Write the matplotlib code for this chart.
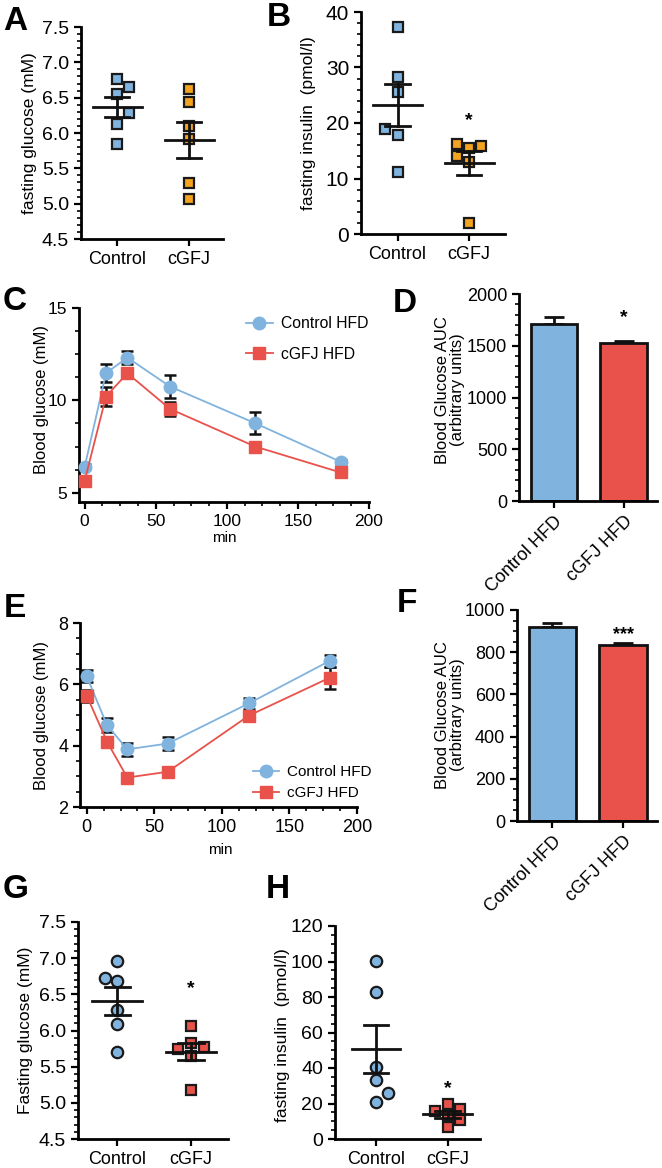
import numpy as np
import matplotlib
matplotlib.use("Agg")
import matplotlib.pyplot as plt
from matplotlib.ticker import MultipleLocator, AutoMinorLocator

plt.rcParams["font.family"] = ["Liberation Sans", "DejaVu Sans"]

W, H = 662, 1168

BLUE = "#80b3de"
ORANGE = "#f2a31f"
RED = "#e8524b"

groups = ["Control", "cGFJ"]
groups_hfd = ["Control HFD", "cGFJ HFD"]

# A: fasting glucose (mM)
a_control = [6.76, 6.65, 6.55, 6.28, 6.13, 5.84]
a_cgfj = [6.62, 6.44, 6.10, 5.91, 5.29, 5.06]

# B: fasting insulin (pmol/l)
b_control = [37.3, 28.3, 25.6, 18.9, 17.9, 11.2]
b_cgfj = [16.2, 15.9, 15.5, 14.0, 13.0, 2.0]

# C: glucose tolerance, blood glucose (mM)
times = [0, 15, 30, 60, 120, 180]
c_control = [6.41, 11.47, 12.32, 10.75, 8.76, 6.68]
c_control_sem = [0.12, 0.5, 0.33, 0.6, 0.6, 0.1]
c_cgfj = [5.65, 10.21, 11.47, 9.54, 7.50, 6.10]
c_cgfj_sem = [0.12, 0.49, 0.2, 0.36, 0.15, 0.1]

# D: AUC
d_auc = [1710, 1523]
d_sem = [70, 25]

# E: insulin tolerance, blood glucose (mM)
e_control = [6.26, 4.67, 3.88, 4.07, 5.38, 6.77]
e_control_sem = [0.2, 0.22, 0.22, 0.2, 0.18, 0.19]
e_cgfj = [5.63, 4.13, 2.96, 3.15, 4.98, 6.22]
e_cgfj_sem = [0.2, 0.15, 0.05, 0.08, 0.16, 0.36]

# F: AUC
f_auc = [921, 833]
f_sem = [16, 12]

# G: fasting glucose (mM)
g_control = [6.96, 6.73, 6.69, 6.28, 6.09, 5.70]
g_cgfj = [6.06, 5.83, 5.77, 5.74, 5.65, 5.18]

# H: fasting insulin (pmol/l)
h_control = [100.3, 83.0, 40.8, 33.2, 25.7, 21.0]
h_cgfj = [20.0, 17.0, 15.9, 13.5, 10.7, 6.8]

fig = plt.figure(figsize=(W / 100, H / 100), dpi=100)


def box(left, top, right, bottom):
    ax = fig.add_axes([left / W, 1 - bottom / H, (right - left) / W, (bottom - top) / H])
    ax.px_h = bottom - top
    for s in ["top", "right"]:
        ax.spines[s].set_visible(False)
    for s in ["left", "bottom"]:
        ax.spines[s].set_linewidth(2)
    ax.tick_params(which="major", length=5, width=1.6, direction="out")
    ax.tick_params(which="minor", length=3, width=1.2, direction="out")
    ax.patch.set_alpha(0)
    return ax


def ftext(x, y, s, **kw):
    fig.text(x / W, 1 - y / H, s, **kw)


def letter(x, y, s):
    ftext(x, y, s, fontsize=24, fontweight="bold", ha="center", va="center")


def swarm(ax, values, size_px=11, step=0.17, first=-1):
    lo, hi = ax.get_ylim()
    scale = ax.px_h / (hi - lo)
    dx = np.zeros(len(values))
    placed = []
    for i in np.argsort(values):
        for k in [0, first, -first, 2 * first, -2 * first]:
            if all(kk != k or abs(values[i] - v) * scale >= size_px for v, kk in placed):
                dx[i] = k * step
                placed.append((values[i], k))
                break
    return dx


def dot_panel(ax, data, colors, markers, first, ytick_fs=14, xtick_fs=13):
    for i, (vals, col, mk) in enumerate(zip(data, colors, markers)):
        vals = np.asarray(vals)
        dx = swarm(ax, vals, first=first)
        ax.plot(i + dx, vals, ls="none", marker=mk, ms=7.8 if mk == "s" else 8.2, mfc=col,
                mec="#1a1a1a", mew=1.6, zorder=2, clip_on=False)
        m = vals.mean()
        sem = vals.std(ddof=1) / np.sqrt(len(vals))
        ax.plot([i - 0.34, i + 0.34], [m, m], color="#111111", lw=2, zorder=3)
        ax.plot([i - 0.17, i + 0.17], [m + sem] * 2, color="#111111", lw=2, zorder=3)
        ax.plot([i - 0.17, i + 0.17], [m - sem] * 2, color="#111111", lw=2, zorder=3)
        ax.plot([i, i], [m - sem, m + sem], color="#111111", lw=2, zorder=3)
    ax.set_xticks([0, 1])
    ax.set_xticklabels(groups, fontsize=xtick_fs)
    ax.tick_params(axis="y", labelsize=ytick_fs)


def curve_panel(ax, ctrl, ctrl_sem, cg, cg_sem, fs=12.5):
    ax.errorbar(times, ctrl, yerr=ctrl_sem, fmt="none", ecolor="#111111", elinewidth=1.8,
                capsize=4, capthick=1.8, zorder=2)
    ax.errorbar(times, cg, yerr=cg_sem, fmt="none", ecolor="#111111", elinewidth=1.8,
                capsize=4, capthick=1.8, zorder=2)
    ax.plot(times, ctrl, color=BLUE, lw=1.3, marker="o", ms=9, mec=BLUE, zorder=3,
            label=groups_hfd[0], clip_on=False)
    ax.plot(times, cg, color=RED, lw=1.3, marker="s", ms=9, mec=RED, zorder=4,
            label=groups_hfd[1], clip_on=False)
    ax.set_xlim(-4, 200)
    ax.xaxis.set_major_locator(MultipleLocator(50))
    ax.xaxis.set_minor_locator(AutoMinorLocator(4))
    ax.tick_params(labelsize=fs)


def bar_panel(ax, auc, sem, fs=13):
    x = np.arange(2)
    ax.bar(x, auc, width=0.67, color=[BLUE, RED], edgecolor="#111111", linewidth=2, zorder=2)
    ax.errorbar(x, auc, yerr=[[0, 0], sem], fmt="none", ecolor="#111111", elinewidth=2,
                capsize=7, capthick=2, zorder=1)
    ax.set_xlim(-0.5, 1.48)
    ax.set_xticks(x)
    ax.set_xticklabels(groups_hfd, rotation=45, ha="right", rotation_mode="anchor", fontsize=fs)
    ax.tick_params(labelsize=fs)


# ---- A
ax = box(81, 27, 223, 239)
ax.set_ylim(4.5, 7.5)
ax.set_xlim(-0.5, 1.47)
ax.yaxis.set_major_locator(MultipleLocator(0.5))
ax.yaxis.set_minor_locator(MultipleLocator(0.1))
ax.yaxis.set_major_formatter("{x:.1f}")
dot_panel(ax, [a_control, a_cgfj], [BLUE, ORANGE], ["s", "s"], first=1)
ftext(30, 133, "fasting glucose (mM)", rotation=90, ha="center", va="center", fontsize=12.5)
letter(15, 22, "A")

# ---- B
ax = box(361, 12, 505, 234)
ax.set_ylim(0, 40)
ax.set_xlim(-0.51, 1.5)
ax.yaxis.set_major_locator(MultipleLocator(10))
ax.yaxis.set_minor_locator(MultipleLocator(2))
dot_panel(ax, [b_control, b_cgfj], [BLUE, ORANGE], ["s", "s"], first=-1, ytick_fs=15)
ax.text(1, 20.5, "*", ha="center", va="center", fontsize=14, fontweight="bold")
ftext(308, 123, "fasting insulin  (pmol/l)", rotation=90, ha="center", va="center", fontsize=12.5)
letter(279, 17, "B")

# ---- C
ax = box(79, 308, 369, 502)
ax.set_ylim(4.5, 15)
ax.yaxis.set_major_locator(MultipleLocator(5))
ax.yaxis.set_minor_locator(MultipleLocator(1.25))
curve_panel(ax, c_control, c_control_sem, c_cgfj, c_cgfj_sem)
ax.legend(loc="upper left", bbox_to_anchor=(246 / W, 1 - 316 / H), bbox_transform=fig.transFigure,
          frameon=False, fontsize=11.3, handlelength=1.7, handletextpad=0.5, labelspacing=1.0,
          borderpad=0, borderaxespad=0)
ftext(42, 400, "Blood glucose (mM)", rotation=90, ha="center", va="center", fontsize=12)
ftext(224, 538, "min", ha="center", va="center", fontsize=11)
letter(15, 302, "C")

# ---- D
ax = box(519, 294, 657, 501)
ax.set_ylim(0, 2000)
ax.yaxis.set_major_locator(MultipleLocator(500))
ax.yaxis.set_minor_locator(MultipleLocator(100))
bar_panel(ax, d_auc, d_sem)
ax.text(1, 1768, "*", ha="center", va="center", fontsize=14, fontweight="bold")
ftext(450, 390, "Blood Glucose AUC\n(arbitrary units)", rotation=90, ha="center", va="center",
      fontsize=12, multialignment="center", linespacing=1.0)
letter(405, 303, "D")

# ---- E
ax = box(80, 623, 357, 807)
ax.set_ylim(2, 8)
ax.yaxis.set_major_locator(MultipleLocator(2))
ax.yaxis.set_minor_locator(MultipleLocator(0.5))
curve_panel(ax, e_control, e_control_sem, e_cgfj, e_cgfj_sem, fs=13)
ax.set_xlim(-5, 200)
ax.legend(loc="upper left", bbox_to_anchor=(253 / W, 1 - 765 / H), bbox_transform=fig.transFigure,
          frameon=False, fontsize=11, handlelength=1.7, handletextpad=0.5, labelspacing=0.45,
          borderpad=0, borderaxespad=0)
ftext(42, 715, "Blood glucose (mM)", rotation=90, ha="center", va="center", fontsize=12)
ftext(220, 850, "min", ha="center", va="center", fontsize=11)
letter(15, 609, "E")

# ---- F
ax = box(517, 610, 657, 821)
ax.set_ylim(0, 1000)
ax.yaxis.set_major_locator(MultipleLocator(200))
ax.yaxis.set_minor_locator(MultipleLocator(50))
bar_panel(ax, f_auc, f_sem)
ax.text(1, 883, "***", ha="center", va="center", fontsize=13, fontweight="bold")
ftext(450, 715, "Blood Glucose AUC\n(arbitrary units)", rotation=90, ha="center", va="center",
      fontsize=12, multialignment="center", linespacing=1.0)
letter(407, 604, "F")

# ---- G
ax = box(78, 922, 228, 1139)
ax.set_ylim(4.5, 7.5)
ax.set_xlim(-0.53, 1.5)
ax.yaxis.set_major_locator(MultipleLocator(0.5))
ax.yaxis.set_minor_locator(MultipleLocator(0.1))
ax.yaxis.set_major_formatter("{x:.1f}")
dot_panel(ax, [g_control, g_cgfj], [BLUE, RED], ["o", "s"], first=-1)
ax.text(1, 6.58, "*", ha="center", va="center", fontsize=14, fontweight="bold")
ftext(26, 1030, "Fasting glucose (mM)", rotation=90, ha="center", va="center", fontsize=12.5)
letter(16, 889, "G")

# ---- H
ax = box(335, 926, 480, 1139)
ax.set_ylim(0, 120)
ax.set_xlim(-0.57, 1.45)
ax.yaxis.set_major_locator(MultipleLocator(20))
ax.yaxis.set_minor_locator(MultipleLocator(5))
dot_panel(ax, [h_control, h_cgfj], [BLUE, RED], ["o", "s"], first=1)
ax.text(1, 28.5, "*", ha="center", va="center", fontsize=14, fontweight="bold")
ftext(282, 1035, "fasting insulin  (pmol/l)", rotation=90, ha="center", va="center", fontsize=12.5)
letter(278, 890, "H")

fig.savefig("out.png", dpi=100)
